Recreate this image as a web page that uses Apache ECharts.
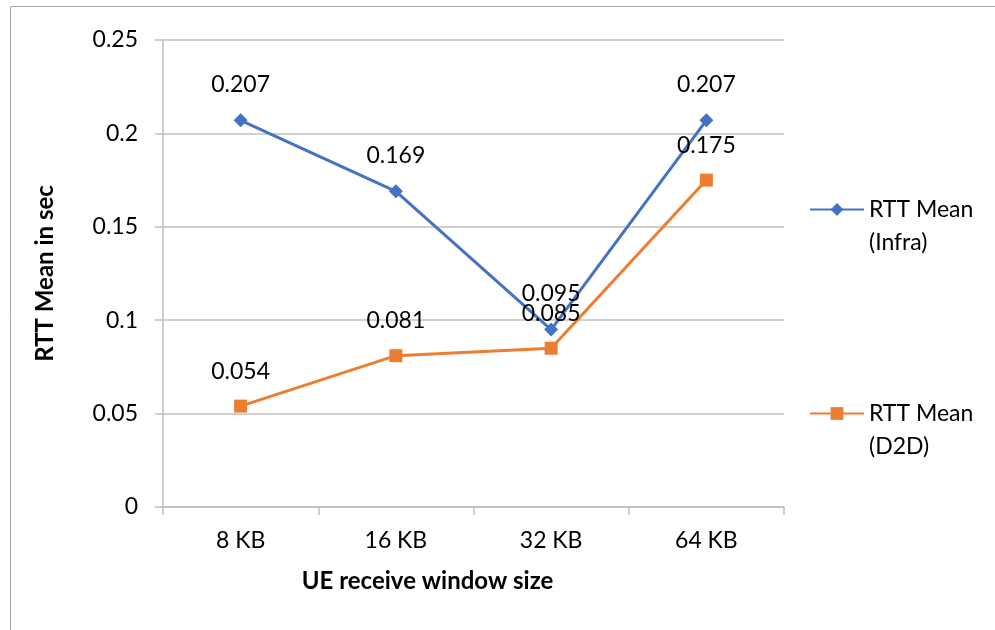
<!DOCTYPE html>
<html>
<head>
<meta charset="utf-8">
<script src="https://cdn.jsdelivr.net/npm/echarts@6/dist/echarts.min.js"></script>
<style>
html,body{margin:0;padding:0;background:#fff;}
#chart{width:995px;height:630px;}
</style>
</head>
<body>
<div id="chart"></div>
<script>
const categories = ['8 KB', '16 KB', '32 KB', '64 KB'];
const infraValues = [0.207, 0.169, 0.095, 0.207];
const d2dValues = [0.054, 0.081, 0.085, 0.175];
const yTicks = { min: 0, max: 0.25, interval: 0.05 };

const FONT = 'Lato';
const FS = 23;
const chart = echarts.init(document.getElementById('chart'));
const axisGray = '#BFBFBF';

chart.setOption({
  backgroundColor: '#fff',
  animation: false,
  textStyle: { fontFamily: FONT },
  graphic: [{
    type: 'rect', left: 8, top: 4,
    shape: { width: 1100, height: 700 },
    style: { fill: 'none', stroke: '#A6A6A6', lineWidth: 1 },
    silent: true
  }],
  grid: { left: 163, right: 211, top: 40, bottom: 123, containLabel: false },
  legend: [{
    data: ['RTT Mean (Infra)'],
    orient: 'vertical', left: 804, top: 155,
    itemWidth: 54, itemHeight: 16,
    formatter: () => '\nRTT Mean\n(Infra)',
    textStyle: { fontFamily: FONT, fontSize: FS, color: '#000', lineHeight: 33 }
  }, {
    data: ['RTT Mean (D2D)'],
    orient: 'vertical', left: 804, top: 359,
    itemWidth: 54, itemHeight: 16,
    formatter: () => '\nRTT Mean\n(D2D)',
    textStyle: { fontFamily: FONT, fontSize: FS, color: '#000', lineHeight: 33 }
  }],
  xAxis: {
    type: 'category',
    data: categories,
    boundaryGap: true,
    name: 'UE receive window size',
    nameLocation: 'middle',
    nameGap: 62,
    nameTextStyle: { fontFamily: FONT, fontSize: 24, fontWeight: 'bold', color: '#000', padding: [0, 92, 0, 0] },
    axisLine: { lineStyle: { color: axisGray, width: 1.5 } },
    axisTick: { show: true, length: 8, lineStyle: { color: axisGray, width: 1.5 } },
    axisLabel: { fontFamily: FONT, fontSize: FS, color: '#000', margin: 22 }
  },
  yAxis: {
    type: 'value',
    min: yTicks.min, max: yTicks.max, interval: yTicks.interval,
    name: 'RTT Mean in sec',
    nameLocation: 'middle',
    nameGap: 106,
    nameTextStyle: { fontFamily: FONT, fontSize: 24, fontWeight: 'bold', color: '#000' },
    axisLine: { show: true, lineStyle: { color: axisGray, width: 1.5 } },
    axisTick: { show: true, length: 8, lineStyle: { color: axisGray, width: 1.5 } },
    axisLabel: { fontFamily: FONT, fontSize: FS, color: '#000', margin: 25 },
    splitLine: { show: true, lineStyle: { color: axisGray, width: 1.5 } }
  },
  series: [{
    name: 'RTT Mean (Infra)',
    type: 'line',
    data: infraValues,
    color: '#4472C4',
    lineStyle: { width: 3, color: '#4472C4' },
    symbol: 'diamond', symbolSize: 14,
    itemStyle: { color: '#4472C4' },
    label: { show: true, position: 'top', distance: 17, fontFamily: FONT, fontSize: FS, color: '#000',
      formatter: p => p.value.toFixed(3) }
  }, {
    name: 'RTT Mean (D2D)',
    type: 'line',
    data: d2dValues,
    color: '#ED7D31',
    lineStyle: { width: 3, color: '#ED7D31' },
    symbol: 'rect', symbolSize: 13,
    itemStyle: { color: '#ED7D31' },
    label: { show: true, position: 'top', distance: 17, fontFamily: FONT, fontSize: FS, color: '#000',
      formatter: p => p.value.toFixed(3) }
  }]
});
</script>
</body>
</html>
